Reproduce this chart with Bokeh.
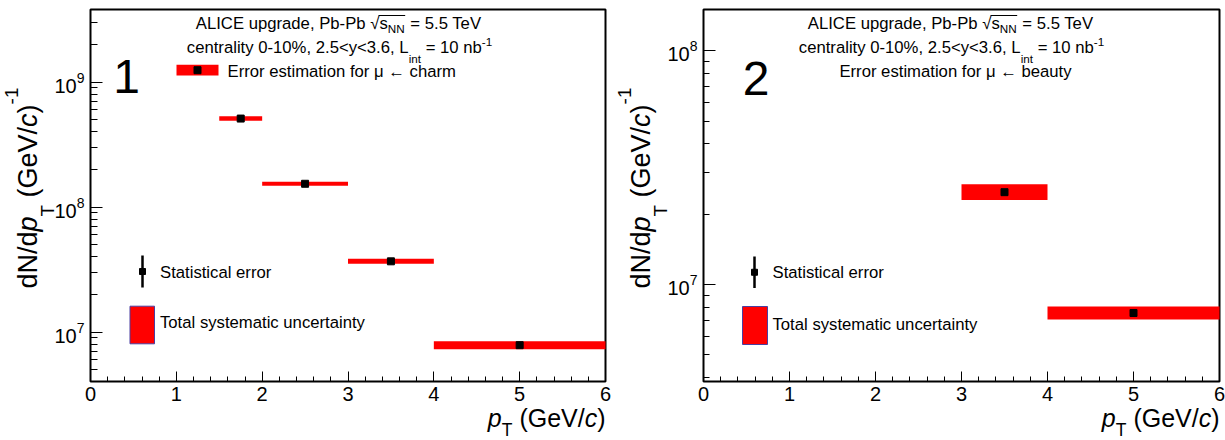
import math
from bokeh.plotting import figure
from bokeh.models import Range1d, LinearScale, FixedTicker, Label
from bokeh.layouts import row
from bokeh.embed import file_html
from bokeh.resources import INLINE

FONT = "Liberation Sans"

# ---- spectra: dN/dpT per pT bin, with relative systematic uncertainty ----
charm_pt_lo = [1.5, 2.0, 3.0, 4.0]
charm_pt_hi = [2.0, 3.0, 4.0, 6.0]
charm_dndpt = [5.12e8, 1.54e8, 3.69e7, 7.87e6]
charm_sys_rel = [0.043, 0.038, 0.047, 0.076]

beauty_pt_lo = [3.0, 4.0]
beauty_pt_hi = [4.0, 6.0]
beauty_dndpt = [2.48e7, 7.54e6]
beauty_sys_rel = [0.080, 0.066]

pt_ticks = [0, 1, 2, 3, 4, 5, 6]
pt_range = (0, 6)
charm_y_range = (4.03e6, 3.82e9)
beauty_y_range = (3.84e6, 1.50e8)

# Liberation Sans advance widths (1/1000 em), used to lay out mixed-style text
ADV = {' ': 278, '%': 889, '(': 333, ')': 333, ',': 278, '-': 333, '.': 278,
       '/': 278, '<': 584, '=': 584, 'A': 667, 'C': 722, 'E': 667, 'G': 778,
       'I': 278, 'L': 556, 'N': 722, 'P': 667, 'S': 667, 'T': 611, 'V': 667,
       'a': 556, 'b': 556, 'c': 500, 'd': 556, 'e': 556, 'f': 278, 'g': 556,
       'h': 556, 'i': 222, 'l': 222, 'm': 833, 'n': 556, 'o': 556, 'p': 556,
       'r': 333, 's': 500, 't': 278, 'u': 556, 'y': 500, '\u03bc': 576,
       '\u2190': 1000, '\u221a': 549}
for _d in "0123456789":
    ADV[_d] = 556

BASE_SHIFT = 0.37   # label anchor -> alphabetic baseline offset, in em
CANVAS_H = 440
FRAME_T, FRAME_B = 9, 381


def tw(s, size):
    return sum(ADV.get(ch, 556) for ch in s) * size / 1000.0


def label(p, x, y, s, size, style="normal", align="left", angle=0.0):
    if angle == 0:
        y -= BASE_SHIFT * size
    else:
        x -= BASE_SHIFT * size
    p.add_layout(Label(x=x, y=y, x_range_name="px", y_range_name="py",
                       text=s, text_font=FONT, text_font_size=f"{size}px",
                       text_font_style=style, text_align=align,
                       text_baseline="alphabetic", angle=angle,
                       text_color="black"))


def lead(s, size):
    """Split leading blanks off a piece (they are not kept when drawn)."""
    t = s.lstrip(" ")
    return tw(s[:len(s) - len(t)], size), t


def run(p, x, base, parts):
    """Horizontal run of (text, size, style, dy) pieces starting at x."""
    for s, size, style, dy in parts:
        gap, t = lead(s, size)
        label(p, x + gap, base + dy, t, size, style)
        x += tw(s, size)
    return x


def header(p, cx, base1, base2):
    size = 16.7
    sub = size * 0.7
    parts1 = [("ALICE upgrade, Pb-Pb ", size, "normal", 0),
              ("\u221a", size, "normal", 0)]
    parts1b = [("s", size, "normal", 0), ("NN", sub, "normal", 3)]
    parts1c = [(" = 5.5 TeV", size, "normal", 0)]
    total = sum(tw(s, z) for s, z, _, _ in parts1 + parts1b + parts1c) + 1
    x = run(p, cx - total / 2, base1, parts1)
    x_bar0 = x
    x = run(p, x, base1, parts1b) + 1
    p.segment(x0=[x_bar0 - 1], y0=[base1 - 14], x1=[x - 0.5], y1=[base1 - 14],
              line_color="black", line_width=1,
              x_range_name="px", y_range_name="py")
    run(p, x, base1, parts1c)

    parts2 = [("centrality 0-10%, 2.5<y<3.6, L", size, "normal", 0),
              ("int", sub, "normal", 9),
              (" = 10 nb", size, "normal", 0)]
    total = sum(tw(s, z) for s, z, _, _ in parts2) + tw("-1", sub)
    x = run(p, cx - total / 2, base2, parts2)
    run(p, x, base2, [("-1", sub, "normal", -7)])


def x_title(p, frame_right):
    size = 25
    sub = size * 0.7
    parts = [("p", size, "italic", 0), ("T", sub, "normal", 9),
             (" (GeV/", size, "normal", 0), ("c", size, "italic", 0),
             (")", size, "normal", 0)]
    total = sum(tw(s, z) for s, z, _, _ in parts)
    run(p, frame_right - total, 427, parts)


def y_title(p, x_base, y_start):
    size = 27
    sub = size * 0.7
    parts = [("dN/d", size, "normal", 0), ("p", size, "italic", 0),
             ("T", sub, "normal", 17), (" (GeV/", size, "normal", 0),
             ("c", size, "italic", 0), (")", size, "normal", 0),
             ("-1", sub, "normal", -19)]
    y = y_start
    for s, z, style, dx in parts:
        gap, t = lead(s, z)
        label(p, x_base + dx, y - gap, t, z, style, angle=math.pi / 2)
        y -= tw(s, z)


def panel(page_left, width, frame_l, frame_r, y_rng, y_major_in, y_minor_in):
    """Figure whose canvas is all frame; the axes sit at the inner box edges."""
    sx = (pt_range[1] - pt_range[0]) / (frame_r - frame_l)
    x_rng = Range1d(pt_range[0] - frame_l * sx,
                    pt_range[1] + (width - frame_r) * sx)
    lo, hi = math.log10(y_rng[0]), math.log10(y_rng[1])
    dpp = (hi - lo) / (FRAME_B - FRAME_T)
    y_full = Range1d(10 ** (lo - (CANVAS_H - FRAME_B) * dpp),
                     10 ** (hi + FRAME_T * dpp))

    p = figure(width=width, height=CANVAS_H, x_range=x_rng, y_range=y_full,
               y_axis_type="log", output_backend="svg", toolbar_location=None,
               min_border=0, min_border_left=0, min_border_right=0,
               min_border_top=0, min_border_bottom=0,
               background_fill_color="white", border_fill_color="white")
    p.outline_line_color = None
    # page-pixel overlay for annotations
    p.extra_x_ranges = {"px": Range1d(page_left, page_left + width)}
    p.extra_y_ranges = {"py": Range1d(CANVAS_H, 0)}
    p.extra_x_scales = {"px": LinearScale()}
    p.extra_y_scales = {"py": LinearScale()}

    p.xgrid.visible = False
    p.ygrid.visible = False

    # plot box
    p.quad(left=[pt_range[0]], right=[pt_range[1]],
           bottom=[y_rng[0]], top=[y_rng[1]],
           fill_color=None, line_color="black", line_width=2)

    xa = p.xaxis[0]
    xa.fixed_location = y_rng[0]
    xa.ticker = FixedTicker(ticks=pt_ticks,
                            minor_ticks=[i / 5 for i in range(31) if i % 5])
    ya = p.yaxis[0]
    ya.fixed_location = pt_range[0]
    majors = [10.0 ** e for e in range(6, 10) if y_rng[0] <= 10.0 ** e <= y_rng[1]]
    minors = [m * 10.0 ** e for e in range(6, 10) for m in range(2, 10)
              if y_rng[0] <= m * 10.0 ** e <= y_rng[1]]
    ya.ticker = FixedTicker(ticks=majors, minor_ticks=minors)
    for ax in (xa, ya):
        ax.axis_line_color = None
        ax.major_tick_out = 0
        ax.minor_tick_out = 0
        ax.major_tick_line_color = "black"
        ax.minor_tick_line_color = "black"
        ax.major_label_text_font = FONT
        ax.major_label_text_font_size = "20px"
        ax.major_label_text_color = "black"
    xa.major_tick_in = 10
    xa.minor_tick_in = 5
    xa.major_label_standoff = 5
    ya.major_tick_in = y_major_in
    ya.minor_tick_in = y_minor_in
    ya.major_label_standoff = 6
    return p


def draw_bins(p, lo, hi, vals, rel):
    centers = [(a + b) / 2 for a, b in zip(lo, hi)]
    p.quad(left=lo, right=hi,
           bottom=[v / (1 + s) for v, s in zip(vals, rel)],
           top=[v * (1 + s) for v, s in zip(vals, rel)],
           fill_color="#ff0000", line_color=None)
    p.scatter(x=centers, y=vals, marker="square", size=7,
              fill_color="black", line_color="black")


def legend_common(p, stat_x, stat_y0, stat_y1, box, text_x, stat_base, sys_base):
    p.segment(x0=[stat_x], y0=[stat_y0], x1=[stat_x], y1=[stat_y1],
              line_color="black", line_width=2.5,
              x_range_name="px", y_range_name="py")
    p.scatter(x=[stat_x], y=[(stat_y0 + stat_y1) / 2], marker="square", size=6,
              fill_color="black", line_color="black",
              x_range_name="px", y_range_name="py")
    l, r, t, b = box
    p.quad(left=[l], right=[r], top=[t], bottom=[b], fill_color="#ff0000",
           line_color="#4a3fa0", line_width=1,
           x_range_name="px", y_range_name="py")
    label(p, text_x, stat_base, "Statistical error", 16.7)
    label(p, text_x, sys_base, "Total systematic uncertainty", 16.7)


# ---- left panel: muons from charm ----
p1 = panel(0, 612, 90, 605, charm_y_range, 12, 7)
draw_bins(p1, charm_pt_lo, charm_pt_hi, charm_dndpt, charm_sys_rel)
header(p1, 339, 29, 53)
p1.quad(left=[176], right=[218], top=[64.3], bottom=[75], fill_color="#ff0000",
        line_color=None, x_range_name="px", y_range_name="py")
p1.scatter(x=[197], y=[69.7], marker="square", size=7, fill_color="black",
           line_color="black", x_range_name="px", y_range_name="py")
label(p1, 227, 77, "Error estimation for \u03bc \u2190 charm", 16.7)
legend_common(p1, 142, 255, 287, (129.5, 154, 305.7, 343.3), 159.5, 278.3, 328.5)
label(p1, 126, 94, "1", 48, align="center")
x_title(p1, 605)
y_title(p1, 37, 288)

# ---- right panel: muons from beauty ----
p2 = panel(612, 613, 91, 607, beauty_y_range, 12, 6)
draw_bins(p2, beauty_pt_lo, beauty_pt_hi, beauty_dndpt, beauty_sys_rel)
header(p2, 951, 29, 53)
label(p2, 955, 77, "Error estimation for \u03bc \u2190 beauty", 16.7, align="center")
legend_common(p2, 754, 256, 287.5, (742, 767, 306, 344), 772, 278, 330)
label(p2, 755.5, 96, "2", 48, align="center")
x_title(p2, 1219)
y_title(p2, 650, 288)

layout = row(p1, p2)
open("out.html", "w").write(file_html(layout, INLINE, "ALICE upgrade"))
